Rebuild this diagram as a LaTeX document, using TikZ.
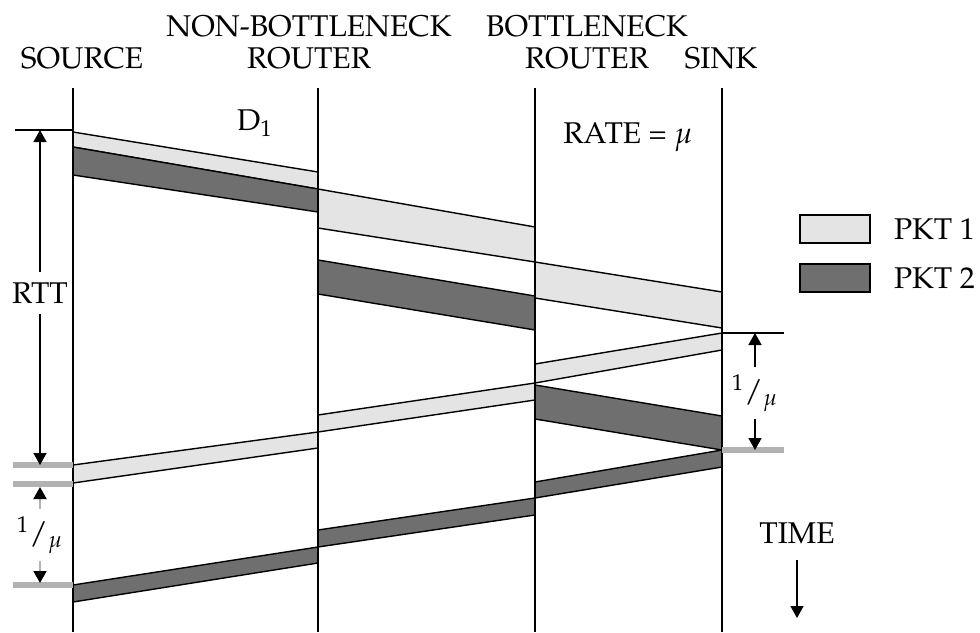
\documentclass[tikz,border=0pt]{standalone}
\usepackage[T1]{fontenc}
\usepackage{mathpazo}
\usetikzlibrary{arrows.meta,positioning}
\definecolor{pktlite}{HTML}{E4E4E4}
\definecolor{pktdark}{HTML}{6F6F6F}
\definecolor{bargray}{HTML}{B2B2B2}

\begin{document}
\begin{tikzpicture}[
  x=0.5pt, y=-0.5pt,
  font=\fontsize{15}{16}\selectfont,
  hostline/.style={line width=1pt},
  litepkt/.style={fill=pktlite, draw=black, line width=0.7pt},
  darkpkt/.style={fill=pktdark, draw=black, line width=0.7pt},
  tick/.style={line width=0.8pt},
  graytick/.style={draw=bargray, line width=3pt},
  dim/.style={line width=0.8pt, -{Triangle[width=6.5pt,length=6pt]}},
  graydim/.style={draw=bargray, line width=1pt, -{Triangle[width=6.5pt,length=6pt,color=black]}},
  keybox/.style={draw, line width=1pt, minimum width=35pt, minimum height=14pt, inner sep=0pt}
]
\useasboundingbox (0,0) rectangle (980,632);

% column labels
\node (srclbl) at (82,58) {SOURCE};
\node[align=center] (nbrlbl) at (309,42) {NON-BOTTLENECK\\ROUTER};
\node[align=center] (bnrlbl) at (587,42) {BOTTLENECK\\ROUTER};
\node (snklbl) at (721,58) {SINK};
\node (delay) at (255,123) {D$_1$};
\node (rate) at (628,137) {RATE = $\mu$};

% data packets, source to sink
\foreach \xa/\ta/\ba/\xb/\tb/\bb in {73/132/147/318/172/189, 318/189/228/535/227/262, 535/262/298/722/292/328}
  \filldraw[litepkt] (\xa,\ta) -- (\xb,\tb) -- (\xb,\bb) -- (\xa,\ba) -- cycle;
\foreach \xa/\ta/\ba/\xb/\tb/\bb in {73/147/175/318/189/212, 318/260/294/535/296/330, 535/385/419/722/416/450}
  \filldraw[darkpkt] (\xa,\ta) -- (\xb,\tb) -- (\xb,\bb) -- (\xa,\ba) -- cycle;

% acks, sink back to source
\foreach \xa/\ta/\ba/\xb/\tb/\bb in {722/333/350/535/364/383, 535/383/400/318/415/432, 318/432/448/73/465/483}
  \filldraw[litepkt] (\xa,\ta) -- (\xb,\tb) -- (\xb,\bb) -- (\xa,\ba) -- cycle;
\foreach \xa/\ta/\ba/\xb/\tb/\bb in {722/450/467/535/482/498, 535/498/515/318/530/547, 318/547/563/73/585/602}
  \filldraw[darkpkt] (\xa,\ta) -- (\xb,\tb) -- (\xb,\bb) -- (\xa,\ba) -- cycle;

% hosts
\coordinate (src) at (73,88);
\coordinate (nbr) at (318,88);
\coordinate (bnr) at (535,88);
\coordinate (snk) at (722,88);
\foreach \h in {src,nbr,bnr,snk}
  \draw[hostline] (\h) -- (\h |- 0,632);

% round trip time
\coordinate (rtttop) at (40,130);
\coordinate (rttbot) at (40,465);
\draw[tick] (15,130) -- (src |- rtttop);
\foreach \y in {465,484,585}
  \draw[graytick] (13,\y) -- (73,\y);
\node[inner sep=5pt] (rtt) at (40,293) {RTT};
\draw[dim] (rtt) -- (rtttop);
\draw[dim] (rtt) -- (rttbot);

% spacing at the source
\coordinate (gaptop) at (40,487);
\coordinate (gapbot) at (40,583);
\node (mulft) at (40,535) {$^{1}/_{\mu}$};
\draw[graydim] (mulft) -- (gaptop);
\draw[graydim] (mulft) -- (gapbot);

% spacing at the sink
\coordinate (ackone) at (755,333);
\coordinate (acktwo) at (755,450);
\draw[tick] (snk |- ackone) -- (784,333);
\draw[graytick] (snk |- acktwo) -- (784,450);
\node (murgt) at (755,393) {$^{1}/_{\mu}$};
\draw[dim] (murgt) -- (ackone);
\draw[dim] (murgt) -- (acktwo);

% time axis
\node[inner sep=8pt] (time) at (797,533) {TIME};
\coordinate (timeend) at (797,618);
\draw[dim] (time) -- (timeend);

% legend
\node[keybox, fill=pktlite] (key1) at (835,229) {};
\node[right=8pt of key1] (key1lbl) {PKT 1};
\node[keybox, fill=pktdark] (key2) at (835,278) {};
\node[right=8pt of key2] (key2lbl) {PKT 2};
\end{tikzpicture}
\end{document}
